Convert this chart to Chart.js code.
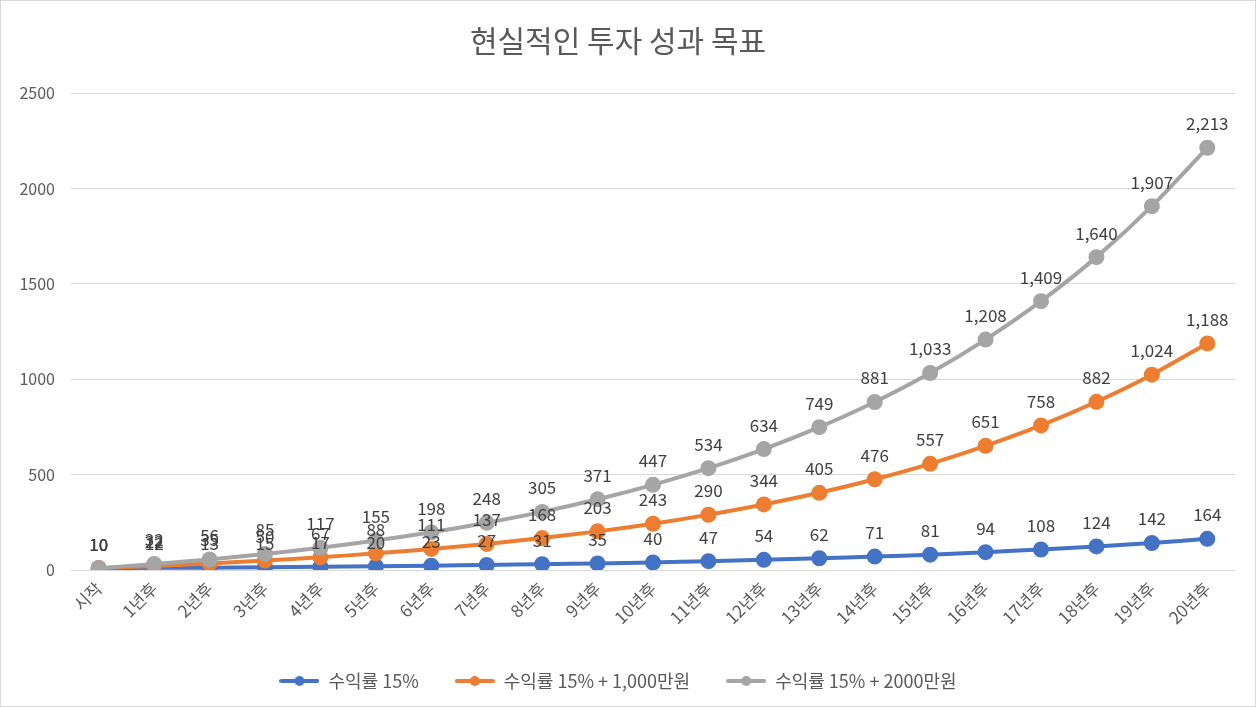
<!DOCTYPE html>
<html>
<head>
<meta charset="utf-8">
<script src="https://cdn.jsdelivr.net/npm/chart.js@4"></script>
<style>
  html, body { margin: 0; padding: 0; background: #fff; }
  #wrap { width: 1256px; height: 707px; box-sizing: border-box; border: 1px solid #d9d9d9; }
</style>
</head>
<body>
<div id="wrap"><canvas id="myCanvas" width="1254" height="705"></canvas></div>
<script>
const FONT = '"Noto Sans CJK KR", "Noto Sans", sans-serif';

const years = ['시작', '1년후', '2년후', '3년후', '4년후', '5년후', '6년후', '7년후', '8년후', '9년후', '10년후',
  '11년후', '12년후', '13년후', '14년후', '15년후', '16년후', '17년후', '18년후', '19년후', '20년후'];
const rate15 = [10, 12, 13, 15, 17, 20, 23, 27, 31, 35, 40, 47, 54, 62, 71, 81, 94, 108, 124, 142, 164];
const rate15plus1000 = [10, 22, 35, 50, 67, 88, 111, 137, 168, 203, 243, 290, 344, 405, 476, 557, 651, 758, 882, 1024, 1188];
const rate15plus2000 = [10, 32, 56, 85, 117, 155, 198, 248, 305, 371, 447, 534, 634, 749, 881, 1033, 1208, 1409, 1640, 1907, 2213];
const yTicks = [0, 500, 1000, 1500, 2000, 2500];

// legend marker: line with a dot in the middle
function legendMark(color) {
  const c = document.createElement('canvas');
  c.width = 40; c.height = 14;
  const g = c.getContext('2d');
  g.strokeStyle = color; g.lineWidth = 4; g.lineCap = 'round';
  g.beginPath(); g.moveTo(2, 7); g.lineTo(38, 7); g.stroke();
  g.fillStyle = color;
  g.beginPath(); g.arc(20, 7, 5, 0, Math.PI * 2); g.fill();
  return c;
}

const valueLabels = {
  id: 'valueLabels',
  afterDatasetsDraw(chart) {
    const ctx = chart.ctx;
    ctx.save();
    ctx.font = '17px ' + FONT;
    ctx.fillStyle = '#404040';
    ctx.textAlign = 'center';
    ctx.textBaseline = 'middle';
    chart.data.datasets.forEach((ds, i) => {
      const meta = chart.getDatasetMeta(i);
      meta.data.forEach((pt, j) => {
        ctx.fillText(ds.data[j].toLocaleString('en-US'), pt.x, pt.y - 24);
      });
    });
    ctx.restore();
  }
};

const series = [
  { label: '수익률 15%', data: rate15, color: '#4472C4', order: 3 },
  { label: '수익률 15% + 1,000만원', data: rate15plus1000, color: '#ED7D31', order: 2 },
  { label: '수익률 15% + 2000만원', data: rate15plus2000, color: '#A5A5A5', order: 1 }
];

new Chart(document.getElementById('myCanvas'), {
  type: 'line',
  data: {
    labels: years,
    datasets: series.map(s => ({
      label: s.label,
      data: s.data,
      order: s.order,
      borderColor: s.color,
      backgroundColor: s.color,
      borderWidth: 4,
      pointRadius: 6,
      pointHoverRadius: 6,
      pointStyle: 'circle',
      tension: 0.25,
      legendMark: legendMark(s.color)
    }))
  },
  plugins: [valueLabels],
  options: {
    responsive: false,
    animation: false,
    layout: { padding: { left: 0, right: 20, top: 0, bottom: 6 } },
    plugins: {
      title: {
        display: true,
        text: '현실적인 투자 성과 목표',
        color: '#595959',
        font: { family: FONT, size: 30, weight: 'normal' },
        padding: { top: 22, bottom: 34 }
      },
      legend: {
        position: 'bottom',
        labels: {
          usePointStyle: true,
          pointStyleWidth: 40,
          color: '#595959',
          font: { family: FONT, size: 18 },
          padding: 36,
          generateLabels(chart) {
            return chart.data.datasets.map((ds, i) => ({
              text: ds.label,
              pointStyle: ds.legendMark,
              fontColor: '#595959',
              strokeStyle: ds.borderColor,
              fillStyle: ds.borderColor,
              lineWidth: 0,
              datasetIndex: i,
              hidden: false
            }));
          }
        }
      },
      tooltip: { enabled: false }
    },
    scales: {
      x: {
        offset: true,
        grid: { display: false, drawTicks: false },
        border: { color: '#d9d9d9', width: 1 },
        ticks: {
          color: '#595959',
          font: { family: FONT, size: 17 },
          maxRotation: 45,
          minRotation: 45,
          padding: 8
        }
      },
      y: {
        min: 0,
        max: 2500,
        afterFit(scale) { scale.width = 70; },
        afterBuildTicks(scale) { scale.ticks = yTicks.map(v => ({ value: v })); },
        grid: { color: '#d9d9d9', drawTicks: false },
        border: { display: false },
        ticks: {
          color: '#595959',
          font: { family: FONT, size: 16 },
          padding: 16,
          callback: v => String(v)
        }
      }
    }
  }
});
</script>
</body>
</html>
